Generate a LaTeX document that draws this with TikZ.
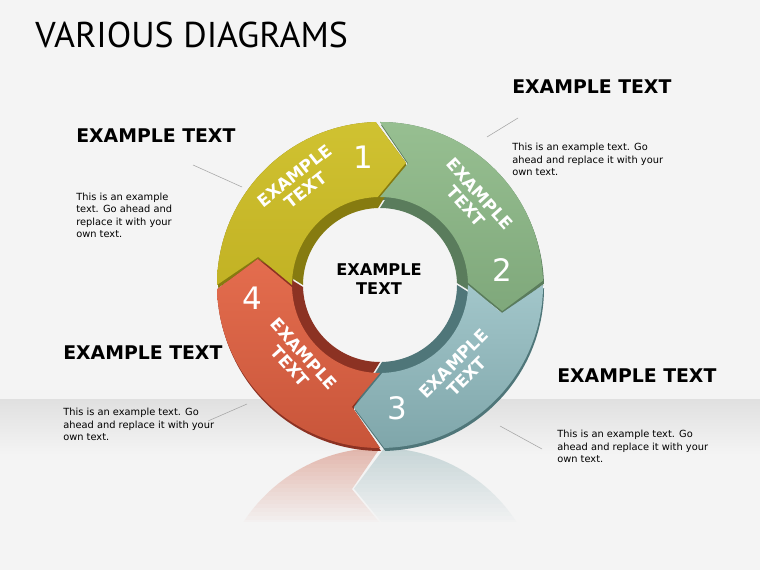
\documentclass[tikz,border=0pt]{standalone}
\usepackage{fontspec}
\setmainfont{DejaVu Sans}
\newfontfamily\titlefont{PT Sans}
\usetikzlibrary{calc,positioning}
\definecolor{bgc}{HTML}{F4F4F4}
\definecolor{yelface}{HTML}{C2B224}
\definecolor{yeltop}{HTML}{D0C231}
\definecolor{yeldark}{HTML}{867B10}
\definecolor{grnface}{HTML}{7FA87B}
\definecolor{grntop}{HTML}{97BF91}
\definecolor{grndark}{HTML}{5A7C5C}
\definecolor{tealface}{HTML}{7FA6AA}
\definecolor{tealtop}{HTML}{A2C6CA}
\definecolor{tealdark}{HTML}{4F7679}
\definecolor{redface}{HTML}{C8553A}
\definecolor{redtop}{HTML}{E46D4E}
\definecolor{reddark}{HTML}{8C3223}
\tikzset{
    bigtitle/.style = {anchor=base west, inner sep=0pt,
        font=\titlefont\fontsize{25.5}{28}\selectfont},
    headtext/.style = {anchor=base west, inner sep=0pt,
        font=\bfseries\fontsize{13.4}{16}\selectfont},
    bodytext/.style = {anchor=base west, inner sep=0pt, align=left,
        font=\fontsize{7}{9}\selectfont},
    lead/.style = {draw=black!35, line width=0.4pt},
    seglabel/.style = {text=white, inner sep=0pt, align=center,
        font=\bfseries\fontsize{12}{13}\selectfont},
    segnum/.style = {text=white, inner sep=0pt,
        font=\fontsize{22}{22}\selectfont},
    midtext/.style = {inner sep=0pt, align=center,
        font=\bfseries\fontsize{11.5}{13.5}\selectfont}
}
% #1 angle of the arrow head, #2 inner radius
\newcommand{\ringseg}[2]{%
    (#1+90:163) arc[start angle=#1+90, end angle=#1+1.5, radius=163]
    -- (#1-12:125) -- (#1+1.5:#2)
    arc[start angle=#1+1.5, end angle=#1+90, radius=#2]
    -- (#1+77:125) -- cycle
}
\begin{document}
\begin{tikzpicture}[x=0.025cm, y=0.025cm]
    \fill[bgc] (0,0) rectangle (760,570);
    \useasboundingbox (0,0) rectangle (760,570);
    \shade[top color=black!12, bottom color=bgc] (0,170) rectangle (760,115);
    % reflection
    \begin{scope}
        \clip (0,123) rectangle (760,48);
        \begin{scope}[shift={(380,-41)}, yscale=-1, opacity=0.4]
            \fill[redface] \ringseg{180}{88};
            \fill[tealface] \ringseg{-90}{88};
        \end{scope}
    \end{scope}
    \foreach \i in {1,...,20}
        \fill[bgc, opacity=\i/20] (0,126-4*\i) rectangle (760,122-4*\i);
    \coordinate (tl1) at (193,405); \coordinate (tl2) at (242,383);
    \coordinate (tr1) at (518,452); \coordinate (tr2) at (487,433);
    \coordinate (bl1) at (247,166); \coordinate (bl2) at (208,149);
    \coordinate (br1) at (500,144); \coordinate (br2) at (542,121);
    \draw[lead] (tl1) -- (tl2);
    \draw[lead] (tr1) -- (tr2);
    \draw[lead] (bl1) -- (bl2);
    \draw[lead] (br1) -- (br2);
    \begin{scope}[shift={(380,285)}]
        \fill[grndark, shift={(1,-3)}] \ringseg{0}{88};
        \fill[tealdark, shift={(1,-3)}] \ringseg{-90}{88};
        \fill[reddark, shift={(1,-3)}] \ringseg{180}{88};
        \fill[yeldark, shift={(1,-3)}] \ringseg{90}{88};
        \fill[grndark] \ringseg{0}{77};
        \fill[tealdark] \ringseg{-90}{77};
        \fill[reddark] \ringseg{180}{77};
        \fill[yeldark] \ringseg{90}{77};
        \shade[top color=grntop, bottom color=grnface] \ringseg{0}{88};
        \shade[top color=tealtop, bottom color=tealface] \ringseg{-90}{88};
        \shade[top color=redtop, bottom color=redface] \ringseg{180}{88};
        \shade[top color=yeltop, bottom color=yelface] \ringseg{90}{88};
    \end{scope}
    \node[seglabel, rotate=38] (lab1) at (300,387) {EXAMPLE\\TEXT};
    \node[seglabel, rotate=-48] (lab2) at (473,370) {EXAMPLE\\TEXT};
    \node[seglabel, rotate=45] (lab3) at (460,200) {EXAMPLE\\TEXT};
    \node[seglabel, rotate=-48] (lab4) at (297,210) {EXAMPLE\\TEXT};
    \node[segnum] (num1) at (363,413) {1};
    \node[segnum] (num2) at (502,300) {2};
    \node[segnum] (num3) at (397,162) {3};
    \node[segnum] (num4) at (252,272) {4};
    \node[midtext] (mid) at (379,291) {EXAMPLE\\TEXT};
    \node[bigtitle] (title) at (35,522) {VARIOUS DIAGRAMS};
    \node[headtext] (htl) at (76,427) {EXAMPLE TEXT};
    \node[headtext] (htr) at (512,476) {EXAMPLE TEXT};
    \node[headtext] (hbl) at (63,210) {EXAMPLE TEXT};
    \node[headtext] (hbr) at (557,187) {EXAMPLE TEXT};
    \node[bodytext] (btl) at (76,332) {This is an example\\text. Go ahead and\\replace it with your\\own text.};
    \node[bodytext] (btr) at (512,394) {This is an example text. Go\\ahead and replace it with your\\own text.};
    \node[bodytext] (bbl) at (63,129) {This is an example text. Go\\ahead and replace it with your\\own text.};
    \node[bodytext] (bbr) at (557,107) {This is an example text. Go\\ahead and replace it with your\\own text.};
\end{tikzpicture}
\end{document}
